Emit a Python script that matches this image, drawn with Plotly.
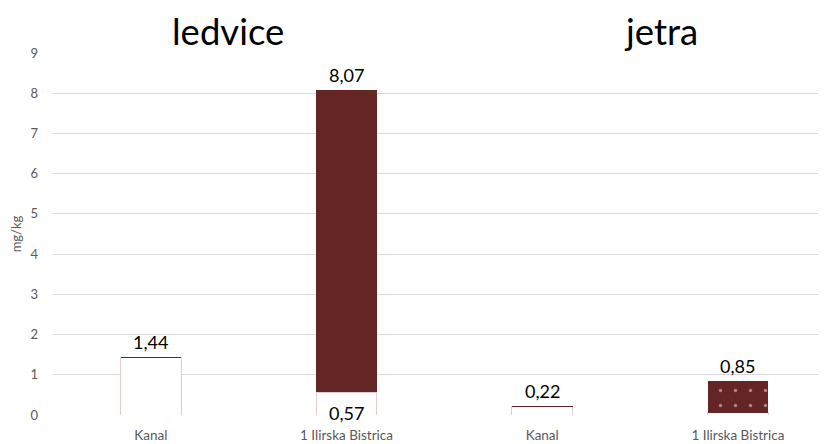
import plotly.graph_objects as go

# ---- data ----
categories = ["Kanal", "1 Ilirska Bistrica", "Kanal", "1 Ilirska Bistrica"]
x_pos = [0, 1, 2, 3]
white_part = [1.42, 0.57, 0.20, 0.05]
red_part = [0.02, 7.50, 0.02, 0.80]
top_labels = ["1,44", "8,07", "0,22", "0,85"]
bottom_labels = ["", "0,57", "", ""]
group_titles = ["ledvice", "jetra"]
y_ticks = [0, 1, 2, 3, 4, 5, 6, 7, 8, 9]

DARK = "#642524"
OUTLINE = "#e3cccc"
FONT = "Lato, 'Open Sans', sans-serif"

fig = go.Figure()

fig.add_trace(go.Bar(
    x=x_pos, y=white_part, width=0.31,
    marker=dict(color="white", line=dict(color=OUTLINE, width=1)),
    hoverinfo="skip", showlegend=False,
))

patterns = ["", "", "", "."]
fig.add_trace(go.Bar(
    x=x_pos, y=red_part, width=0.31,
    marker=dict(
        color=DARK, line=dict(width=0),
        pattern=dict(shape=patterns, fgcolor="#f3e6e6", bgcolor=DARK,
                     size=15, solidity=0.04, fillmode="overlay"),
    ),
    hoverinfo="skip", showlegend=False,
))

totals = [w + r for w, r in zip(white_part, red_part)]
annotations = []
for xi, t, lab in zip(x_pos, totals, top_labels):
    annotations.append(dict(x=xi, y=t, xref="x", yref="y", text=lab,
                            showarrow=False, yanchor="bottom", yshift=2,
                            font=dict(size=18, color="black", family=FONT)))
for xi, w, lab in zip(x_pos, white_part, bottom_labels):
    if lab:
        annotations.append(dict(x=xi, y=w / 2, xref="x", yref="y", text=lab,
                                showarrow=False, yanchor="middle", yshift=-9,
                                font=dict(size=18, color="black", family=FONT)))
for tx, px in zip(group_titles, [0.227, 0.787]):
    annotations.append(dict(x=px, y=1.061, xref="paper", yref="paper", text=tx,
                            showarrow=False, xanchor="center", yanchor="middle",
                            font=dict(size=36.5, color="black", family=FONT)))

fig.update_layout(
    width=818, height=436,
    margin=dict(l=45, r=0, t=45, b=29),
    barmode="stack",
    plot_bgcolor="white", paper_bgcolor="white",
    font=dict(family=FONT, color="#595959"),
    annotations=annotations,
    xaxis=dict(range=[-0.5, 3.45], tickvals=x_pos, ticktext=categories,
               showgrid=False, zeroline=False, showline=False,
               tickfont=dict(size=13.5, color="#595959"), ticks="",
               ticklabelstandoff=10),
    yaxis=dict(range=[0, 9], tickvals=y_ticks, showgrid=True, gridcolor="#d9d9d9",
               gridwidth=1, zeroline=False, showline=False,
               tickfont=dict(size=13, color="#595959"), ticklabelstandoff=14,
               title=dict(text="mg/kg", font=dict(size=13, color="#595959"), standoff=6)),
)

fig.write_html("out.html")
